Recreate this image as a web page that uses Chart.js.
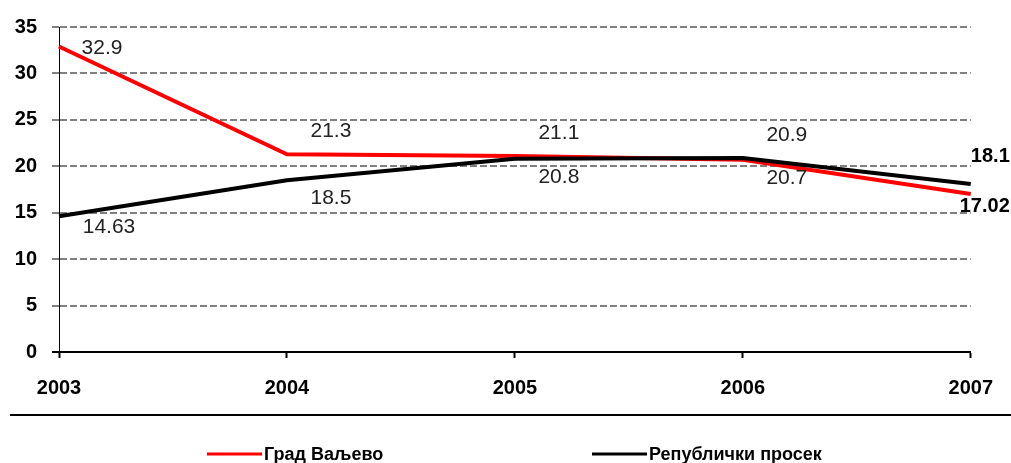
<!DOCTYPE html>
<html>
<head>
<meta charset="utf-8">
<script src="https://cdn.jsdelivr.net/npm/chart.js@4.4.0/dist/chart.umd.min.js"></script>
<style>
  html, body { margin: 0; padding: 0; background: #fff; }
  #wrap { width: 1011px; height: 463px; }
</style>
</head>
<body>
<div id="wrap"><canvas id="c" width="1011" height="463"></canvas></div>
<script>
var years = ["2003", "2004", "2005", "2006", "2007"];
var valjevo = [32.9, 21.3, 21.1, 20.7, 17.02];
var republika = [14.63, 18.5, 20.8, 20.9, 18.1];
var yMin = 0, yMax = 35, yStep = 5;

// where each value label sits next to its point
var placeValjevo = ["right", "above", "above", "below", "endBelow"];
var placeRepublika = ["rightBelow", "below", "below", "above", "endAbove"];

var FONT = "'Liberation Sans', Arial, sans-serif";

var offsets = {
    right:      { dx: 43, dy: 2 },
    rightBelow: { dx: 50, dy: 11 },
    above:      { dx: 44, dy: -23 },
    below:      { dx: 44, dy: 18 },
    endAbove:   { dx: 39, dy: -27, end: true },
    endBelow:   { dx: 39, dy: 13, end: true }
};

var extras = {
    id: 'extras',
    afterDatasetsDraw: function(chart) {
        var ctx = chart.ctx;
        ctx.save();
        ctx.textBaseline = 'middle';
        chart.data.datasets.forEach(function(ds, i) {
            var meta = chart.getDatasetMeta(i);
            meta.data.forEach(function(pt, j) {
                var o = offsets[ds.placement[j]];
                if (o.end) {
                    ctx.font = 'bold 20px ' + FONT;
                    ctx.fillStyle = '#000';
                    ctx.textAlign = 'right';
                } else {
                    ctx.font = '21px ' + FONT;
                    ctx.fillStyle = '#222';
                    ctx.textAlign = 'center';
                }
                ctx.fillText(String(ds.data[j]), pt.x + o.dx, pt.y + o.dy);
            });
        });
        ctx.restore();
    },
    afterDraw: function(chart) {
        var ctx = chart.ctx;
        ctx.save();
        // separator under the axis labels
        ctx.strokeStyle = '#000';
        ctx.lineWidth = 2;
        ctx.beginPath();
        ctx.moveTo(10, 415);
        ctx.lineTo(1011, 415);
        ctx.stroke();

        // legend
        var items = [
            { ds: chart.data.datasets[0], x: 207 },
            { ds: chart.data.datasets[1], x: 592 }
        ];
        ctx.font = 'bold 18px ' + FONT;
        ctx.textBaseline = 'alphabetic';
        ctx.textAlign = 'left';
        items.forEach(function(it) {
            ctx.strokeStyle = it.ds.borderColor;
            ctx.lineWidth = 3;
            ctx.beginPath();
            ctx.moveTo(it.x, 454);
            ctx.lineTo(it.x + 55, 454);
            ctx.stroke();
            ctx.fillStyle = '#000';
            ctx.fillText(it.ds.label, it.x + 57, 460);
        });
        ctx.restore();
    }
};

var config = {
    type: 'line',
    data: {
        labels: years,
        datasets: [{
            label: "Град Ваљево",
            data: valjevo,
            placement: placeValjevo,
            borderColor: "#ff0000",
            borderWidth: 4,
            pointRadius: 0,
            tension: 0,
            order: 1
        }, {
            label: "Републички просек",
            data: republika,
            placement: placeRepublika,
            borderColor: "#000000",
            borderWidth: 4,
            pointRadius: 0,
            tension: 0,
            order: 0
        }]
    },
    options: {
        responsive: false,
        animation: false,
        devicePixelRatio: 1,
        layout: { padding: { top: 25, right: 40, left: 0, bottom: 0 } },
        plugins: {
            legend: { display: false },
            tooltip: { enabled: false }
        },
        scales: {
            x: {
                offset: false,
                grid: {
                    drawOnChartArea: false,
                    drawTicks: true,
                    tickLength: 6,
                    tickWidth: 2,
                    tickColor: '#000'
                },
                border: { color: '#000', width: 2 },
                ticks: {
                    color: '#000',
                    font: { family: FONT, size: 20, weight: 'bold' },
                    padding: 18,
                    maxRotation: 0
                },
                afterFit: function(scale) { scale.height = 111; }
            },
            y: {
                min: yMin,
                max: yMax,
                grid: {
                    color: function(c) { return c.tick && c.tick.value === 0 ? 'rgba(0,0,0,0)' : '#808080'; },
                    lineWidth: 2,
                    tickLength: 7,
                    tickColor: function(c) { return c.tick && c.tick.value === 0 ? '#000' : '#808080'; }
                },
                border: { color: '#000', width: 1, dash: [7, 3] },
                ticks: {
                    stepSize: yStep,
                    color: '#000',
                    padding: 15,
                    font: { family: FONT, size: 20, weight: 'bold' }
                },
                afterFit: function(scale) { scale.width = 59; }
            }
        }
    },
    plugins: [extras]
};

window.myLine = new Chart(document.getElementById("c"), config);
</script>
</body>
</html>
